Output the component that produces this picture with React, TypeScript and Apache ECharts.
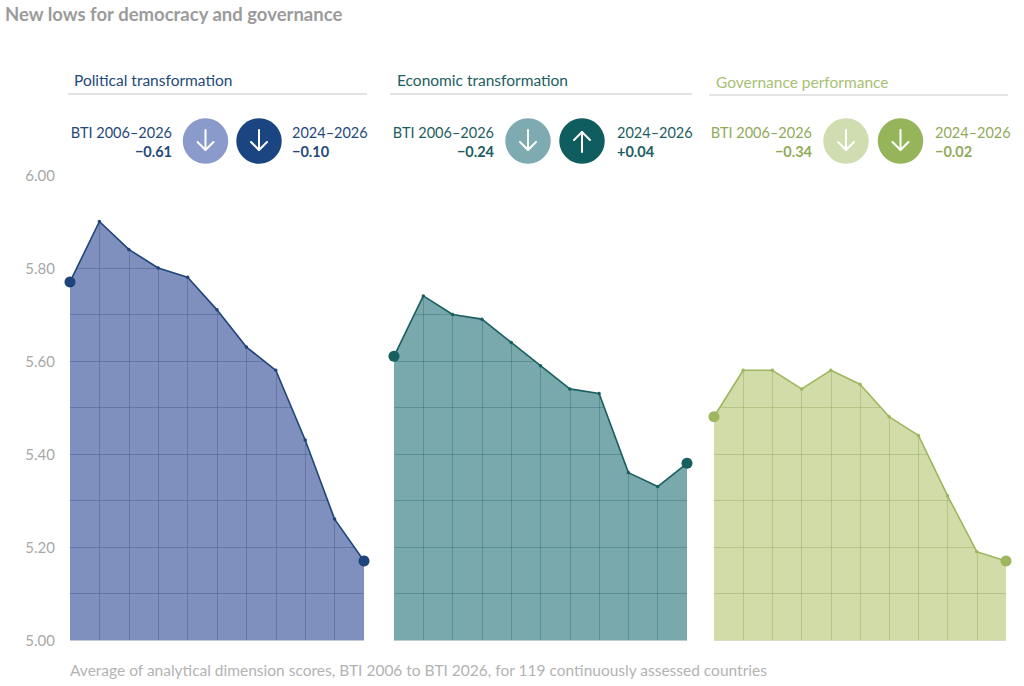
import React, { useEffect, useRef } from "react";
import * as echarts from "echarts";

const editions = ["BTI 2006", "BTI 2008", "BTI 2010", "BTI 2012", "BTI 2014", "BTI 2016", "BTI 2018", "BTI 2020", "BTI 2022", "BTI 2024", "BTI 2026"];
const political = [5.77, 5.9, 5.84, 5.8, 5.78, 5.71, 5.63, 5.58, 5.43, 5.26, 5.17];
const economic = [5.61, 5.74, 5.7, 5.69, 5.64, 5.59, 5.54, 5.53, 5.36, 5.33, 5.38];
const governance = [5.48, 5.58, 5.58, 5.54, 5.58, 5.55, 5.48, 5.44, 5.31, 5.19, 5.17];

const panelTitles = ["Political transformation", "Economic transformation", "Governance performance"];
const longLabel = "BTI 2006–2026";
const shortLabel = "2024–2026";
const longChange = ["−0.61", "−0.24", "−0.34"];
const shortChange = ["−0.10", "+0.04", "−0.02"];
const longDir = ["down", "down", "down"];
const shortDir = ["down", "up", "down"];

const Y_MIN = 5;
const Y_MAX = 6;

const panels = [
  {
    values: political, left: 70, width: 294,
    fill: "#7f8fbe", line: "#1f4479", grid: "rgba(31,60,110,0.28)",
    text: "#25497a", title: "#25497a", light: "#8a9aca", dark: "#1b4580",
    titleX: 74, titleY: 80, ruleX1: 68, ruleX2: 367, ruleY: 94,
    textR: 172, c1: 205.5, c2: 259, textL: 292,
  },
  {
    values: economic, left: 394, width: 293,
    fill: "#79a8ad", line: "#185f5f", grid: "rgba(20,85,88,0.30)",
    text: "#1c5e61", title: "#1c5e61", light: "#7eaab2", dark: "#0f5d5e",
    titleX: 397, titleY: 80, ruleX1: 390, ruleX2: 692, ruleY: 94,
    textR: 494, c1: 528, c2: 582, textL: 617,
  },
  {
    values: governance, left: 714, width: 292,
    fill: "#d1dca9", line: "#9db75e", grid: "rgba(120,150,60,0.30)",
    text: "#91aa5a", title: "#a8c074", light: "#d0ddb0", dark: "#96b45a",
    titleX: 716, titleY: 82, ruleX1: 709, ruleX2: 1008, ruleY: 95,
    textR: 812, c1: 846, c2: 900.5, textL: 935,
  },
];

function arrow(cx: number, cy: number, dir: string) {
  const s = dir === "down" ? 1 : -1;
  const st = { stroke: "#ffffff", lineWidth: 2, fill: null, lineCap: "round", lineJoin: "round" };
  return [
    { type: "line", z: 12, shape: { x1: cx, y1: cy - 11 * s, x2: cx, y2: cy + 9 * s }, style: st },
    { type: "polyline", z: 12, shape: { points: [[cx - 8, cy + 1 * s], [cx, cy + 9 * s], [cx + 8, cy + 1 * s]] }, style: st },
  ];
}

function txt(x: number, y: number, text: string, color: string, size: number, weight: string, align: string) {
  return {
    type: "text", x, y, z: 12,
    style: {
      text, fill: color, fontSize: size, fontWeight: weight, fontFamily: "Lato",
      align, verticalAlign: "middle", textAlign: align, textVerticalAlign: "middle",
    },
  };
}

export default function App() {
  const ref = useRef<HTMLDivElement>(null);
  useEffect(() => {
    if (!ref.current) return;
    const chart = echarts.init(ref.current, undefined, { renderer: "svg" });

    const graphics: any[] = [];
    graphics.push(txt(5, 14, "New lows for democracy and governance", "#9b9b9b", 18.5, "bold", "left"));
    graphics.push(txt(70, 670, "Average of analytical dimension scores, BTI 2006 to BTI 2026, for 119 continuously assessed countries", "#b3b3b3", 15.5, "normal", "left"));
    panels.forEach((p, i) => {
      graphics.push(txt(p.titleX, p.titleY, panelTitles[i], p.title, 15.5, "normal", "left"));
      graphics.push({ type: "line", z: 12, shape: { x1: p.ruleX1, y1: p.ruleY, x2: p.ruleX2, y2: p.ruleY }, style: { stroke: "#c8c8c8", lineWidth: 1.2 } });
      graphics.push(txt(p.textR, 132, longLabel, p.text, 14.5, "normal", "right"));
      graphics.push(txt(p.textR, 151, longChange[i], p.text, 14.5, "bold", "right"));
      graphics.push(txt(p.textL, 132, shortLabel, p.text, 14.5, "normal", "left"));
      graphics.push(txt(p.textL, 151, shortChange[i], p.text, 14.5, "bold", "left"));
      graphics.push({ type: "circle", z: 11, shape: { cx: p.c1, cy: 141, r: 22.7 }, style: { fill: p.light } });
      graphics.push({ type: "circle", z: 11, shape: { cx: p.c2, cy: 141, r: 22.7 }, style: { fill: p.dark } });
      graphics.push(...arrow(p.c1, 141, longDir[i]));
      graphics.push(...arrow(p.c2, 141, shortDir[i]));
    });

    const series: any[] = [];
    panels.forEach((p, i) => {
      const last = p.values.length - 1;
      series.push({
        type: "line", xAxisIndex: i, yAxisIndex: i, stack: "s" + i, data: p.values,
        symbol: "none", lineStyle: { width: 0 }, areaStyle: { color: p.fill, opacity: 1 }, z: 1, silent: true,
      });
      series.push({
        type: "line", xAxisIndex: i, yAxisIndex: i, stack: "s" + i,
        data: p.values.map((v) => +(Y_MAX + 0.02 - v).toFixed(3)),
        symbol: "none", lineStyle: { width: 0 }, areaStyle: { color: "#ffffff", opacity: 1 }, z: 3, clip: false, silent: true,
      });
      series.push({
        type: "line", xAxisIndex: i, yAxisIndex: i, data: p.values,
        symbol: "circle",
        symbolSize: (_v: any, params: any) => (params.dataIndex === 0 || params.dataIndex === last ? 11 : 3.5),
        showSymbol: true,
        itemStyle: { color: p.line },
        lineStyle: { color: p.line, width: 1.6 },
        z: 4, silent: true,
      });
    });

    chart.setOption({
      animation: false,
      textStyle: { fontFamily: "Lato" },
      grid: panels.map((p) => ({ left: p.left, width: p.width, top: 175, height: 465 })),
      xAxis: panels.map((p, i) => ({
        gridIndex: i, type: "category", data: editions, boundaryGap: false, z: 2,
        axisLine: { show: false }, axisTick: { show: false }, axisLabel: { show: false },
        splitLine: {
          show: true,
          interval: (idx: number) => idx > 0 && idx < editions.length - 1,
          lineStyle: { color: p.grid, width: 1 },
        },
      })),
      yAxis: panels.map((p, i) => ({
        gridIndex: i, type: "value", min: Y_MIN, max: Y_MAX, interval: 0.1, z: 2,
        axisLine: { show: false }, axisTick: { show: false },
        axisLabel: {
          show: i === 0, color: "#a8a8a8", fontSize: 15, fontFamily: "Lato", margin: 15,
          formatter: (v: number) => (Math.round(v * 10) % 2 === 0 ? v.toFixed(2) : ""),
        },
        splitLine: { show: true, lineStyle: { color: p.grid, width: 1 } },
      })),
      series,
      graphic: graphics,
    });
    return () => chart.dispose();
  }, []);
  return <div ref={ref} style={{ position: "fixed", left: 0, top: 0, width: 1024, height: 686, background: "#fff" }} />;
}
